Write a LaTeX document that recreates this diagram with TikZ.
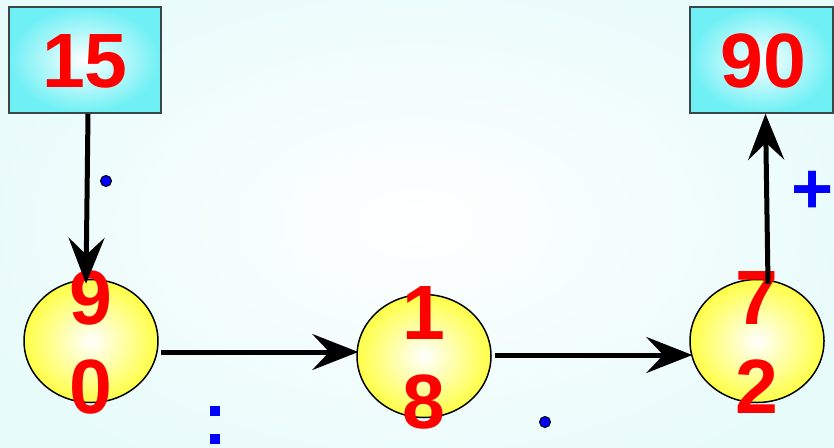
\documentclass[tikz,border=0pt]{standalone}
\usepackage{fontspec}
\setmainfont{Liberation Sans}
\usetikzlibrary{shapes.geometric,arrows.meta,calc}
\definecolor{bgc}{RGB}{232,251,251}
\definecolor{boxc}{RGB}{110,240,245}
\definecolor{yelc}{RGB}{255,255,70}
\definecolor{numred}{RGB}{255,0,0}
\definecolor{opblue}{RGB}{0,0,255}
\tikzset{
  numbox/.style={draw={rgb,255:red,60;green,70;blue,70}, line width=1.5pt, minimum width=#1, minimum height=106pt, inner sep=0pt, inner color=white, outer color=boxc},
  numball/.style={ellipse, draw=black, line width=1.5pt, minimum width=134pt, minimum height=123pt, inner sep=0pt, inner color=white, outer color=yelc},
  digit/.style={text=numred, font=\fontsize{77}{77}\selectfont\bfseries, inner sep=0pt},
  conn/.style={line width=5pt, -{Stealth[length=46pt, width=36pt, inset=17pt]}},
  bluedot/.style={circle, fill=opblue, draw=black, line width=1pt, minimum size=11pt, inner sep=0pt},
  bluesq/.style={fill=opblue, minimum size=10pt, inner sep=0pt},
}
\begin{document}
\begin{tikzpicture}[x=1pt,y=1pt]
\useasboundingbox (0,0) rectangle (834,-447);
\begin{scope}
\clip (0,0) rectangle (834,-447);
\shade[inner color=white, outer color=bgc] (-60,60) rectangle (894,-507);
\end{scope}
\node[numbox=152pt] (b15) at (85,-60) {};
\node[digit] (t15) at (85,-61) {15};
\node[numbox=143pt] (b90) at (761.5,-60) {};
\node[digit] (t90) at (763,-61) {90};
\node[numball] (c1) at (91,-341) {};
\node[numball] (c2) at (424,-356) {};
\node[numball] (c3) at (757,-341) {};
\node[digit] (d9) at (91,-298) {9};
\node[digit] (d0) at (91,-387) {0};
\node[digit] (d1) at (424,-313) {1};
\node[digit] (d8) at (424,-402) {8};
\node[digit] (d7) at (757,-298) {7};
\node[digit] (d2) at (757,-387) {2};
\draw[conn] ($(b15.south)+(3,0)$) -- ($(c1.north)+(-5,-5)$);
\draw[conn] ($(c1.east)+(2,-11)$) -- ($(c2.west)+(2,4)$);
\draw[conn] ($(c2.east)+(3,1)$) -- ($(c3.west)+(3,-14)$);
\draw[conn] ($(c3.north)+(11,-5)$) -- ($(b90.south)+(4,0)$);
\node[bluedot] (m1) at (106,-181) {};
\node[bluedot] (m2) at (545,-422) {};
\node[bluesq] (s1) at (215,-411) {};
\node[bluesq] (s2) at (215,-439) {};
\node[text=opblue, font=\fontsize{72}{72}\selectfont\bfseries, inner sep=0pt] (plus) at (813,-192) {+};
\end{tikzpicture}
\end{document}
